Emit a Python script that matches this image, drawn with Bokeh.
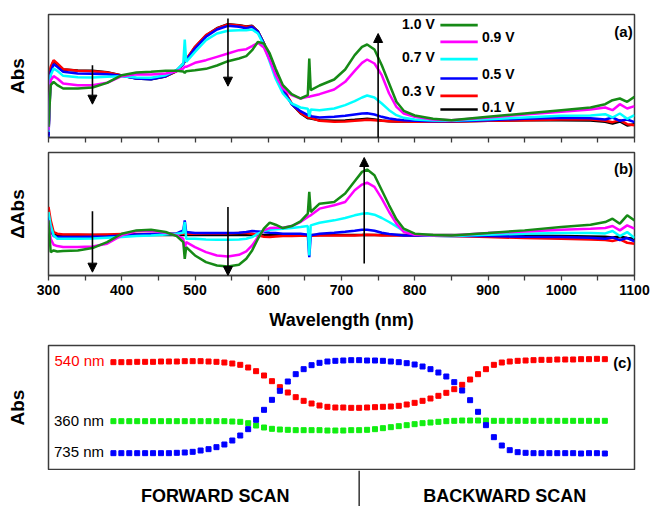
from bokeh.plotting import figure
from bokeh.layouts import column
from bokeh.models import Range1d, Label, Arrow, NormalHead, FixedTicker
from bokeh.embed import file_html
from bokeh.resources import INLINE

FONT = "Liberation Sans"

# ---------------- data: spectra (arbitrary absorbance units) ----------------
wavelength = [300, 303, 307, 312, 320, 340, 360, 380, 400, 420, 440, 460, 475, 484, 486,
              488, 500, 515, 530, 545, 560, 570, 578, 586, 594, 602, 610, 620, 632, 644,
              654, 656, 658, 670, 690, 705, 718, 728, 735, 745, 755, 765, 775, 785, 800,
              825, 850, 900, 950, 1000, 1040, 1060, 1070, 1080, 1090, 1100]

voltages = ["0.1 V", "0.3 V", "0.5 V", "0.7 V", "0.9 V", "1.0 V"]
colors = ["#000000", "#ff0000", "#0000ff", "#00ffff", "#ff00ff", "#168a16"]

abs_01 = [7, 207, 229, 220, 204, 201, 200, 196, 186, 177, 175, 183, 199, 221, 228,
          233, 271, 306, 328, 340, 337, 333, 335, 318, 283, 236, 196, 146, 101, 73,
          58, 58, 57, 52, 50, 51, 53, 55, 56, 54, 51, 49, 48, 48, 48,
          48, 48, 50, 52, 52, 51, 47, 42, 48, 36, 40]
abs_03 = [12, 212, 232, 222, 205, 200, 199, 195, 186, 178, 176, 184, 200, 222, 229,
          234, 272, 307, 327, 339, 336, 332, 334, 317, 282, 237, 197, 147, 102, 74,
          60, 60, 59, 50, 47, 48, 50, 52, 53, 52, 50, 49, 48, 48, 47,
          47, 47, 50, 52, 54, 54, 50, 46, 52, 40, 37]
abs_05 = [2, 197, 220, 212, 197, 192, 191, 190, 185, 177, 175, 184, 202, 220, 232,
          232, 267, 302, 324, 335, 332, 328, 332, 317, 282, 234, 192, 142, 100, 79,
          67, 74, 64, 60, 62, 65, 69, 72, 73, 69, 62, 57, 54, 52, 50,
          49, 49, 52, 56, 59, 58, 54, 60, 50, 54, 46]
abs_07 = [17, 187, 207, 200, 185, 181, 180, 182, 184, 180, 179, 187, 202, 222, 294,
          227, 257, 292, 312, 320, 322, 322, 324, 312, 277, 227, 177, 132, 102, 90,
          86, 62, 84, 82, 87, 97, 109, 120, 126, 120, 102, 82, 67, 59, 54,
          51, 50, 55, 60, 65, 66, 70, 60, 72, 56, 67]
abs_09 = [22, 172, 184, 177, 162, 157, 157, 164, 184, 190, 189, 192, 199, 207, 212,
          212, 224, 232, 242, 252, 262, 265, 274, 284, 270, 232, 187, 147, 127, 117,
          122, 122, 124, 130, 144, 167, 200, 224, 234, 222, 187, 132, 92, 72, 62,
          54, 52, 60, 69, 77, 84, 90, 82, 100, 87, 94]
abs_10 = [32, 157, 167, 157, 147, 147, 150, 164, 187, 195, 197, 200, 200, 198, 194,
          199, 202, 206, 216, 229, 237, 244, 262, 287, 282, 252, 207, 157, 130, 117,
          127, 237, 142, 156, 174, 204, 247, 272, 279, 264, 217, 162, 107, 80, 66,
          56, 52, 62, 72, 82, 90, 100, 112, 117, 107, 122]

dabs_01 = [150, 130, 122, 121, 121, 121, 121, 121, 121, 121, 121, 121, 121, 121, 121,
           121, 121, 121, 121, 121, 121, 121, 121, 121, 121, 121, 121, 121, 121, 121,
           121, 121, 121, 121, 121, 121, 121, 121, 121, 121, 121, 121, 121, 121, 121,
           121, 121, 120, 119, 118, 117, 116, 114, 117, 112, 110]
dabs_03 = [205, 165, 130, 125, 123, 123, 122, 123, 124, 124, 124, 125, 125, 125, 125,
           125, 125, 126, 126, 126, 127, 127, 125, 120, 116, 115, 117, 118, 118, 119,
           119, 119, 119, 120, 120, 120, 120, 121, 122, 121, 120, 120, 120, 120, 120,
           119, 118, 115, 112, 110, 108, 106, 103, 108, 98, 95]
dabs_05 = [175, 140, 118, 115, 115, 115, 116, 117, 120, 123, 124, 125, 126, 135, 165,
           130, 127, 127, 127, 127, 128, 130, 133, 132, 130, 128, 127, 125, 125, 125,
           122, 55, 120, 125, 128, 131, 134, 137, 137, 134, 128, 124, 122, 120, 120,
           119, 118, 118, 116, 115, 113, 110, 114, 106, 112, 102]
dabs_07 = [190, 150, 120, 110, 110, 110, 111, 113, 115, 118, 120, 123, 125, 128, 160,
           110, 110, 108, 107, 107, 108, 110, 115, 125, 133, 137, 138, 140, 142, 145,
           148, 60, 150, 158, 165, 172, 180, 185, 186, 182, 172, 160, 147, 133, 123,
           119, 118, 122, 125, 127, 127, 126, 133, 118, 130, 112]
dabs_09 = [165, 110, 92, 88, 85, 85, 87, 95, 120, 133, 134, 128, 120, 110, 80,
           100, 85, 70, 60, 57, 62, 72, 90, 115, 135, 142, 143, 143, 148, 160,
           175, 178, 180, 200, 210, 220, 255, 272, 278, 265, 230, 190, 155, 130, 122,
           120, 120, 127, 132, 137, 140, 142, 148, 135, 150, 140]
dabs_10 = [165, 70, 75, 72, 73, 75, 82, 100, 125, 135, 137, 130, 118, 100, 50,
           85, 60, 40, 30, 27, 32, 50, 75, 110, 140, 158, 152, 142, 148, 162,
           185, 250, 190, 215, 220, 245, 282, 310, 317, 300, 255, 210, 168, 140, 125,
           121, 120, 127, 135, 145, 152, 160, 170, 155, 180, 165]

wl_ticks = [300, 400, 500, 600, 700, 800, 900, 1000, 1100]
wl_minor = [350, 450, 550, 650, 750, 850, 950, 1050]
wl_all_ticks = [300, 350, 400, 450, 500, 550, 600, 650, 700, 750, 800, 850, 900, 950, 1000, 1050, 1100]

# ---------------- data: absorbance during forward/backward scan ----------------
scan_step = list(range(63))
turn_step = 31
scan_label_pos = [12.85, 49.37]
scan_labels = ["FORWARD SCAN", "BACKWARD SCAN"]
abs_540 = [3.25, 3.25, 3.25, 3.26, 3.26, 3.26, 3.27, 3.27, 3.27, 3.28, 3.28, 3.28, 3.27, 3.26,
           3.24, 3.21, 3.17, 3.09, 2.98, 2.85, 2.68, 2.50, 2.34, 2.20, 2.09, 2.01, 1.95,
           1.91, 1.89, 1.89, 1.88, 1.88, 1.89, 1.90, 1.91, 1.92, 1.94, 1.98, 2.03, 2.09,
           2.16, 2.24, 2.33, 2.44, 2.57, 2.73, 2.89, 3.04, 3.17, 3.24, 3.27, 3.29, 3.30,
           3.31, 3.32, 3.32, 3.33, 3.33, 3.33, 3.34, 3.34, 3.35, 3.34]
abs_735 = [0.52, 0.52, 0.52, 0.52, 0.52, 0.52, 0.52, 0.52, 0.53, 0.54, 0.56, 0.60, 0.64, 0.70,
           0.78, 0.90, 1.05, 1.24, 1.52, 1.82, 2.12, 2.39, 2.67, 2.89, 3.04, 3.16, 3.23,
           3.27, 3.29, 3.30, 3.31, 3.31, 3.30, 3.30, 3.29, 3.27, 3.25, 3.22, 3.18, 3.12,
           3.04, 2.94, 2.82, 2.65, 2.40, 2.11, 1.76, 1.36, 1.00, 0.75, 0.61, 0.55, 0.53,
           0.52, 0.52, 0.52, 0.52, 0.52, 0.52, 0.51, 0.52, 0.52, 0.51]
abs_360 = [1.48, 1.48, 1.48, 1.48, 1.48, 1.48, 1.48, 1.48, 1.48, 1.48, 1.48, 1.48, 1.48, 1.48,
           1.48, 1.47, 1.46, 1.42, 1.35, 1.29, 1.25, 1.23, 1.22, 1.21, 1.21, 1.21, 1.21,
           1.20, 1.20, 1.20, 1.21, 1.21, 1.22, 1.24, 1.27, 1.30, 1.33, 1.36, 1.39, 1.42,
           1.44, 1.46, 1.48, 1.49, 1.50, 1.50, 1.50, 1.50, 1.49, 1.49, 1.49, 1.49, 1.49,
           1.49, 1.49, 1.49, 1.49, 1.49, 1.49, 1.49, 1.49, 1.49, 1.49]

EDGE = "#3c3c3c"


def make_fig(h, top, bottom, xr, yr, ylabel):
    p = figure(width=651, height=h, x_range=xr, y_range=yr, output_backend="svg",
               toolbar_location=None, min_border_left=48, min_border_right=17,
               min_border_top=top, min_border_bottom=bottom)
    p.grid.visible = False
    p.outline_line_color = EDGE
    p.outline_line_width = 1.5
    p.background_fill_color = "white"
    p.border_fill_color = "white"
    ya = p.yaxis[0]
    ya.ticker = FixedTicker(ticks=[], minor_ticks=[])
    ya.axis_line_color = None
    ya.major_tick_out = 0
    ya.major_tick_in = 0
    ya.minor_tick_out = 0
    ya.minor_tick_in = 0
    ya.major_label_standoff = 0
    ya.axis_label = ylabel
    ya.axis_label_text_font = FONT
    ya.axis_label_text_font_style = "bold"
    ya.axis_label_text_font_size = "19px"
    ya.axis_label_text_color = "black"
    ya.axis_label_standoff = 21
    return p


def style_wl_axis(ax):
    ax.axis_line_color = EDGE
    ax.axis_line_width = 1.5
    ax.major_tick_in = 0
    ax.major_tick_out = 5
    ax.minor_tick_in = 0
    ax.minor_tick_out = 5
    ax.major_tick_line_color = EDGE
    ax.minor_tick_line_color = EDGE
    ax.major_tick_line_width = 1.3
    ax.minor_tick_line_width = 1.3


def add_text(p, x, y, text, size="14px", bold=True, color="black", align="center"):
    p.add_layout(Label(x=x, y=y, text=text, text_font=FONT, text_font_size=size,
                       text_font_style="bold" if bold else "normal", text_color=color,
                       text_align=align, text_baseline="middle"))


def add_arrow(p, x, y0, y1):
    p.add_layout(Arrow(end=NormalHead(size=9, fill_color="black", line_color="black"),
                       x_start=x, y_start=y0, x_end=x, y_end=y1,
                       line_color="black", line_width=1.6))


# ---------------- panel (a) ----------------
pa = make_fig(147, 14, 10, Range1d(300, 1100), Range1d(0, 369), "Abs")
axa = pa.xaxis[0]
axa.ticker = FixedTicker(ticks=[], minor_ticks=wl_all_ticks)   # ticks only, no labels
style_wl_axis(axa)
for ys, c in zip([abs_01, abs_03, abs_05, abs_07, abs_09, abs_10], colors):
    pa.line(wavelength, ys, line_color=c, line_width=2.5)
add_arrow(pa, 360, 217, 100)
add_arrow(pa, 545, 357, 154)
add_arrow(pa, 750, -3, 312)
add_text(pa, 1085, 317, "(a)", size="15px")
# legend (custom, interleaved)
leg_text_x = [805, 914, 805, 914, 805, 914]
leg_text_y = [340, 302, 242, 192, 140, 92]
leg_line_y = [337, 287, 235, 177, 125, 84]
order = [5, 4, 3, 2, 1, 0]
for k, i in enumerate(order):
    pa.segment(x0=835, x1=886, y0=leg_line_y[k], y1=leg_line_y[k], line_color=colors[i], line_width=2.6)
    add_text(pa, leg_text_x[k], leg_text_y[k], voltages[i], size="14px")

# ---------------- panel (b) ----------------
pb = make_fig(193, 5, 65, Range1d(300, 1100), Range1d(0, 368), "\u0394Abs")
axb = pb.xaxis[0]
axb.ticker = FixedTicker(ticks=wl_ticks, minor_ticks=wl_minor)
style_wl_axis(axb)
axb.major_label_text_font = FONT
axb.major_label_text_font_style = "bold"
axb.major_label_text_font_size = "14px"
axb.major_label_text_color = "black"
axb.major_label_standoff = 4
axb.axis_label = "Wavelength (nm)"
axb.axis_label_text_font = FONT
axb.axis_label_text_font_style = "bold"
axb.axis_label_text_font_size = "18px"
axb.axis_label_text_color = "black"
axb.axis_label_standoff = 12
for ys, c in zip([dabs_01, dabs_03, dabs_05, dabs_07, dabs_09, dabs_10], colors):
    pb.line(wavelength, ys, line_color=c, line_width=2.5)
add_arrow(pb, 360, 192, 10)
add_arrow(pb, 545, 205, 0)
add_arrow(pb, 731, 36, 353)
add_text(pb, 1085, 321, "(b)", size="15px")

# ---------------- panel (c) ----------------
scan_range = Range1d(-8.19, 65.74)
pc = make_fig(130, 5, 1, scan_range, Range1d(0.03, 3.75), "Abs")
pc.xaxis.visible = False
pc.scatter(scan_step, abs_540, marker="square", size=5, color="#ff0000")
pc.scatter(scan_step, abs_360, marker="square", size=5, color="#11ee11")
pc.scatter(scan_step, abs_735, marker="square", size=5, color="#0000ff")
add_text(pc, -7.43, 3.30, "540 nm", size="15px", bold=False, color="#ff0000", align="left")
add_text(pc, -7.50, 1.50, "360 nm", size="15px", bold=False, align="left")
add_text(pc, -7.50, 0.57, "735 nm", size="15px", bold=False, align="left")
add_text(pc, 64.2, 3.24, "(c)", size="15px")

# strip below panel (c): scan direction labels and turning-point divider
pd = figure(width=651, height=36, x_range=scan_range, y_range=Range1d(0, 1),
            output_backend="svg", toolbar_location=None, min_border_left=48,
            min_border_right=17, min_border_top=0, min_border_bottom=0)
pd.axis.visible = False
pd.grid.visible = False
pd.outline_line_color = None
pd.segment(x0=turn_step, x1=turn_step, y0=0, y1=1, line_color="black", line_width=1.2)
for pos, lab in zip(scan_label_pos, scan_labels):
    add_text(pd, pos, 0.28, lab, size="18px")

layout = column(pa, pb, pc, pd, spacing=0)
open("out.html", "w").write(file_html(layout, INLINE))
